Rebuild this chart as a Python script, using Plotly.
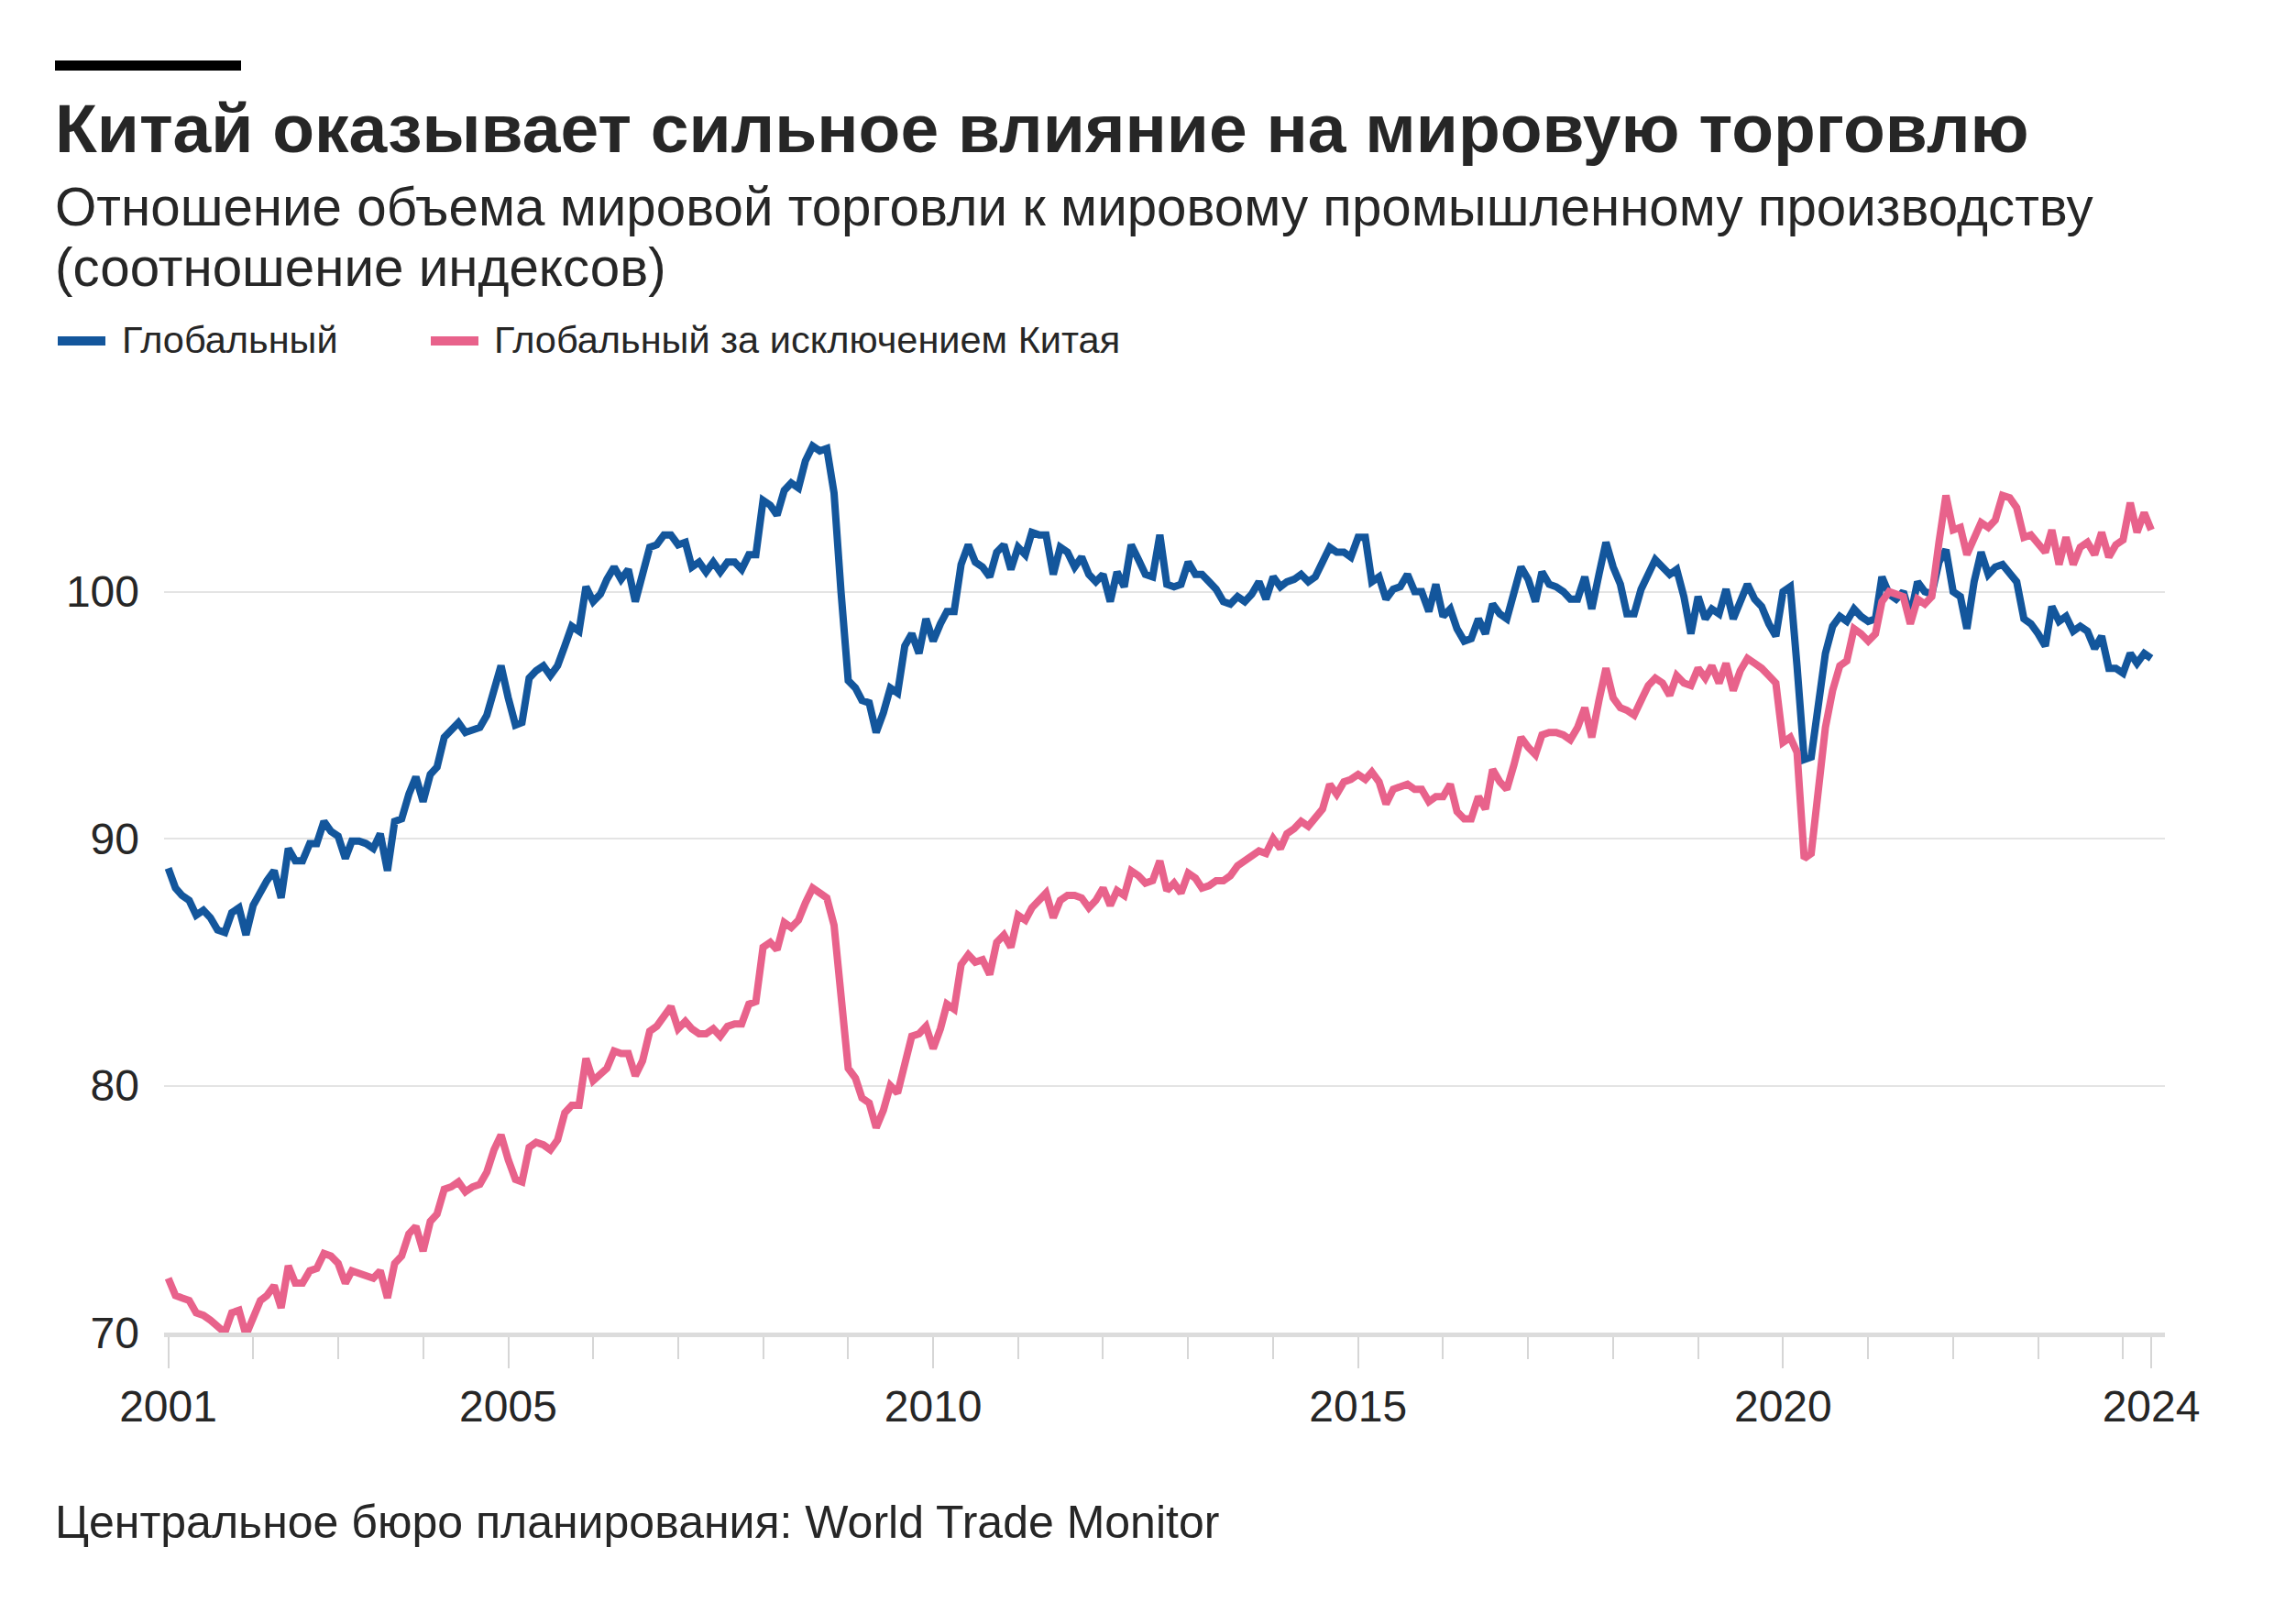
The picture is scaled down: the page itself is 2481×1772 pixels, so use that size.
import plotly.graph_objects as go
import pandas as pd

# ---------------- data ----------------
months = pd.date_range("2001-01-01", "2024-05-01", freq="MS")  # monthly, Jan 2001 .. May 2024

global_vals = [
    88.8, 88.0, 87.7, 87.5, 86.9, 87.1, 86.8, 86.3, 86.2, 87.0, 87.2, 86.1,          # 2001
    87.3, 87.9, 88.3, 88.7, 87.6, 89.6, 89.1, 89.1, 89.8, 89.8, 90.7, 90.3,          # 2002
    90.1, 89.2, 89.9, 89.9, 89.8, 89.6, 90.2, 88.7, 90.7, 90.8, 91.8, 92.5,          # 2003
    91.5, 92.6, 92.9, 94.1, 94.4, 94.7, 94.3, 94.4, 94.5, 95.0, 96.0, 97.0,          # 2004
    95.7, 94.6, 94.7, 96.5, 96.8, 97.0, 96.6, 97.0, 97.8, 98.6, 98.4, 100.2,         # 2005
    99.6, 99.9, 100.5, 101.0, 100.5, 100.9, 99.6, 100.7, 101.8, 101.9, 102.3, 102.3, # 2006
    101.9, 102.0, 101.0, 101.2, 100.8, 101.2, 100.8, 101.2, 101.2, 100.9, 101.5, 101.5,  # 2007
    103.7, 103.5, 103.1, 104.1, 104.4, 104.2, 105.3, 105.9, 105.7, 105.8, 104.0, 100.0,  # 2008
    96.4, 96.1, 95.6, 95.5, 94.3, 95.1, 96.1, 95.9, 97.8, 98.3, 97.5, 98.9,          # 2009
    98.0, 98.7, 99.2, 99.2, 101.1, 101.9, 101.2, 101.0, 100.6, 101.6, 101.9, 100.9,  # 2010
    101.8, 101.5, 102.4, 102.3, 102.3, 100.7, 101.8, 101.6, 101.0, 101.4, 100.7, 100.4,  # 2011
    100.7, 99.6, 100.8, 100.2, 101.9, 101.3, 100.7, 100.6, 102.3, 100.3, 100.2, 100.3,  # 2012
    101.2, 100.7, 100.7, 100.4, 100.1, 99.6, 99.5, 99.8, 99.6, 99.9, 100.4, 99.7,    # 2013
    100.6, 100.2, 100.4, 100.5, 100.7, 100.4, 100.6, 101.2, 101.8, 101.6, 101.6, 101.4,  # 2014
    102.2, 102.2, 100.4, 100.6, 99.7, 100.1, 100.2, 100.7, 100.0, 100.0, 99.2, 100.3,  # 2015
    99.0, 99.3, 98.5, 98.0, 98.1, 98.9, 98.3, 99.5, 99.1, 98.9, 99.9, 101.0,         # 2016
    100.5, 99.6, 100.8, 100.3, 100.2, 100.0, 99.7, 99.7, 100.6, 99.3, 100.7, 102.0,  # 2017
    101.0, 100.3, 99.1, 99.1, 100.1, 100.8, 101.3, 101.0, 100.7, 100.9, 99.8, 98.3,  # 2018
    99.8, 98.9, 99.3, 99.1, 100.1, 98.9, 99.6, 100.3, 99.7, 99.4, 98.7, 98.2,        # 2019
    100.0, 100.2, 97.0, 93.2, 93.3, 95.6, 97.5, 98.6, 99.0, 98.8, 99.3, 99.0,        # 2020
    98.8, 98.9, 100.6, 99.9, 99.7, 100.0, 99.0, 100.4, 100.0, 99.9, 101.2, 101.7,    # 2021
    100.0, 99.8, 98.5, 100.4, 101.6, 100.7, 101.0, 101.1, 100.7, 100.4, 98.9, 98.7,  # 2022
    98.3, 97.8, 99.4, 98.8, 99.0, 98.4, 98.6, 98.4, 97.7, 98.2, 96.9, 96.9,          # 2023
    96.7, 97.5, 97.1, 97.5, 97.3,                                                    # 2024
]

ex_china_vals = [
    72.2, 71.5, 71.4, 71.3, 70.8, 70.7, 70.5, 70.2, 70.0, 70.8, 70.9, 69.9,          # 2001
    70.7, 71.3, 71.5, 71.9, 71.0, 72.7, 72.0, 72.0, 72.5, 72.6, 73.2, 73.1,          # 2002
    72.8, 72.0, 72.5, 72.4, 72.3, 72.2, 72.5, 71.4, 72.8, 73.1, 74.0, 74.3,          # 2003
    73.3, 74.5, 74.8, 75.8, 75.9, 76.1, 75.7, 75.9, 76.0, 76.5, 77.4, 78.0,          # 2004
    77.0, 76.2, 76.1, 77.5, 77.7, 77.6, 77.4, 77.8, 78.9, 79.2, 79.2, 81.1,          # 2005
    80.2, 80.5, 80.7, 81.4, 81.3, 81.3, 80.4, 81.0, 82.2, 82.4, 82.8, 83.2,          # 2006
    82.3, 82.6, 82.3, 82.1, 82.1, 82.3, 82.0, 82.4, 82.5, 82.5, 83.3, 83.4,          # 2007
    85.6, 85.8, 85.5, 86.6, 86.4, 86.7, 87.4, 88.0, 87.8, 87.6, 86.5, 83.5,          # 2008
    80.7, 80.3, 79.5, 79.3, 78.3, 79.0, 80.0, 79.7, 80.9, 82.0, 82.1, 82.4,          # 2009
    81.5, 82.3, 83.3, 83.1, 84.9, 85.3, 85.0, 85.1, 84.5, 85.8, 86.1, 85.6,          # 2010
    86.9, 86.7, 87.2, 87.5, 87.8, 86.8, 87.5, 87.7, 87.7, 87.6, 87.2, 87.5,          # 2011
    88.0, 87.3, 87.9, 87.7, 88.7, 88.5, 88.2, 88.3, 89.1, 87.9, 88.2, 87.8,          # 2012
    88.6, 88.4, 88.0, 88.1, 88.3, 88.3, 88.5, 88.9, 89.1, 89.3, 89.5, 89.4,          # 2013
    90.0, 89.6, 90.2, 90.4, 90.7, 90.5, 90.8, 91.2, 92.2, 91.8, 92.3, 92.4,          # 2014
    92.6, 92.4, 92.7, 92.3, 91.4, 92.0, 92.1, 92.2, 92.0, 92.0, 91.5, 91.7,          # 2015
    91.7, 92.2, 91.1, 90.8, 90.8, 91.7, 91.2, 92.8, 92.3, 92.0, 93.0, 94.1,          # 2016
    93.7, 93.4, 94.2, 94.3, 94.3, 94.2, 94.0, 94.5, 95.3, 94.1, 95.6, 96.9,          # 2017
    95.7, 95.3, 95.2, 95.0, 95.6, 96.2, 96.5, 96.3, 95.8, 96.6, 96.3, 96.2,          # 2018
    96.9, 96.5, 97.0, 96.3, 97.1, 96.0, 96.8, 97.3, 97.1, 96.9, 96.6, 96.3,          # 2019
    93.9, 94.1, 93.5, 89.2, 89.4, 92.0, 94.5, 96.0, 97.0, 97.2, 98.5, 98.3,          # 2020
    98.0, 98.3, 99.6, 100.0, 99.9, 99.8, 98.7, 99.7, 99.5, 99.8, 102.0, 103.9,       # 2021
    102.5, 102.6, 101.5, 102.1, 102.8, 102.6, 102.9, 103.9, 103.8, 103.4, 102.2, 102.3,  # 2022
    102.0, 101.6, 102.5, 101.1, 102.2, 101.1, 101.8, 102.0, 101.5, 102.4, 101.4, 101.9,  # 2023
    102.1, 103.6, 102.4, 103.2, 102.5,                                               # 2024
]

series_names = ["Глобальный", "Глобальный за исключением Китая"]
series_colors = ["#13569c", "#e8628b"]

x_tick_dates = ["2001-01-01", "2005-01-01", "2010-01-01", "2015-01-01", "2020-01-01", "2024-05-01"]
x_tick_labels = ["2001", "2005", "2010", "2015", "2020", "2024"]
x_minor_dates = [f"{y}-01-01" for y in range(2002, 2025) if y not in (2005, 2010, 2015, 2020)]
y_ticks = [70, 80, 90, 100]

title_text = "Китай оказывает сильное влияние на мировую торговлю"
subtitle_1 = "Отношение объема мировой торговли к мировому промышленному производству"
subtitle_2 = "(соотношение индексов)"
source_text = "Центральное бюро планирования: World Trade Monitor"

# ---------------- layout geometry ----------------
# page pixels; the page body has an 8px default margin, so the figure is offset by OFF
OFF = 8
W_FIG, H_FIG = 2481 - 2 * OFF, 1772 - 2 * OFF - 6
# plot area in page pixels
L_P, R_P, T_P, B_P = 179, 2362, 457, 1454
L, R, T, B = L_P - OFF, R_P - OFF, T_P - OFF, B_P - OFF
PW, PH = R - L, B - T


def px(xp):  # page x pixel -> paper x
    return (xp - OFF - L) / PW


def py(yp):  # page y pixel -> paper y
    return (B - (yp - OFF)) / PH


FONT = "Liberation Sans, Arial, sans-serif"
TXT = "#262626"

fig = go.Figure()
for vals, name, color in zip([global_vals, ex_china_vals], series_names, series_colors):
    fig.add_trace(go.Scatter(
        x=months, y=vals, mode="lines", name=name,
        line=dict(color=color, width=8), hoverinfo="skip",
    ))

shapes = [
    # black bar above title
    dict(type="rect", xref="paper", yref="paper", x0=px(60), x1=px(263), y0=py(77), y1=py(66),
         fillcolor="#000000", line=dict(width=0), layer="above"),
    # legend swatches
    dict(type="line", xref="paper", yref="paper", x0=px(63), x1=px(115), y0=py(372), y1=py(372),
         line=dict(color=series_colors[0], width=10)),
    dict(type="line", xref="paper", yref="paper", x0=px(470), x1=px(522), y0=py(372), y1=py(372),
         line=dict(color=series_colors[1], width=10)),
]

annotations = [
    dict(text=f"<b>{title_text}</b>", x=px(58), y=py(140), xanchor="left", yanchor="middle",
         font=dict(family=FONT, size=75, color=TXT)),
    dict(text=subtitle_1, x=px(58), y=py(225), xanchor="left", yanchor="middle",
         font=dict(family=FONT, size=58.3, color=TXT)),
    dict(text=subtitle_2, x=px(58), y=py(291), xanchor="left", yanchor="middle",
         font=dict(family=FONT, size=58.3, color=TXT)),
    dict(text=series_names[0], x=px(131), y=py(370), xanchor="left", yanchor="middle",
         font=dict(family=FONT, size=41.5, color=TXT)),
    dict(text=series_names[1], x=px(537), y=py(370), xanchor="left", yanchor="middle",
         font=dict(family=FONT, size=41.5, color=TXT)),
    dict(text=source_text, x=px(58), y=py(1661), xanchor="left", yanchor="middle",
         font=dict(family=FONT, size=50, color=TXT)),
]
for a in annotations:
    a.update(xref="paper", yref="paper", showarrow=False, align="left")

fig.update_layout(
    width=W_FIG, height=H_FIG,
    margin=dict(l=L, r=W_FIG - R, t=T, b=H_FIG - B, pad=0),
    paper_bgcolor="white", plot_bgcolor="white",
    showlegend=False,
    shapes=shapes, annotations=annotations,
    font=dict(family=FONT, color=TXT),
)

fig.update_xaxes(
    type="date", range=["2000-12-14", "2024-06-29"],
    showgrid=False, zeroline=False,
    showline=True, linecolor="#dcdcdc", linewidth=5,
    ticks="outside", tickvals=x_tick_dates, ticktext=x_tick_labels,
    ticklen=34, tickwidth=2, tickcolor="#d6d6d6",
    tickfont=dict(family=FONT, size=48, color=TXT),
    minor=dict(tickvals=x_minor_dates, ticks="outside", ticklen=24, tickwidth=2,
               tickcolor="#d6d6d6", showgrid=False),
)
fig.update_yaxes(
    range=[70, 107], tickvals=y_ticks, ticks="",
    showgrid=True, gridcolor="#e4e4e4", gridwidth=2,
    zeroline=False, showline=False,
    tickfont=dict(family=FONT, size=48, color=TXT),
    ticklabelstandoff=26,
)

fig.write_html("out.html")
